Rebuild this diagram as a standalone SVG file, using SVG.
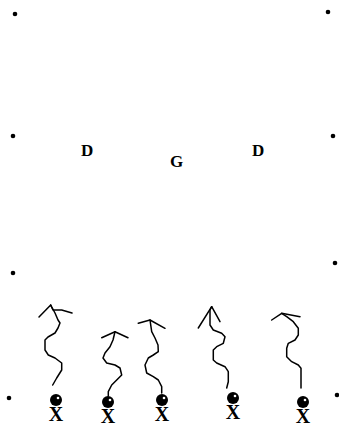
<svg xmlns="http://www.w3.org/2000/svg" width="339" height="431" viewBox="0 0 339 431">
  <style>
    .dot { fill: #000; }
    .route { fill: none; stroke: #000; stroke-width: 1.5; stroke-linejoin: round; stroke-linecap: round; }
    .lbl { font-family: "Liberation Serif", "Times New Roman", serif; font-weight: bold; fill: #000; }
    .pos { font-size: 17px; }
    .x { font-size: 20px; text-anchor: middle; }
  </style>
  <defs>
    <g id="player">
      <circle cx="0" cy="0" r="6" fill="#000"/>
      <circle cx="2" cy="-2" r="1.3" fill="#fff"/>
      <text class="lbl x" x="0" y="21">X</text>
    </g>
  </defs>

  <!-- field markers -->
  <g id="markers">
    <circle class="dot" cx="15" cy="14" r="2.3"/>
    <circle class="dot" cx="328" cy="12" r="2.3"/>
    <circle class="dot" cx="13" cy="136" r="2.3"/>
    <circle class="dot" cx="333" cy="136" r="2.3"/>
    <circle class="dot" cx="13" cy="273" r="2.3"/>
    <circle class="dot" cx="335" cy="263" r="2.3"/>
    <circle class="dot" cx="9" cy="398" r="2.3"/>
    <circle class="dot" cx="337" cy="395" r="2.3"/>
  </g>

  <!-- defenders -->
  <g id="d-left"><text class="lbl pos" x="81" y="156">D</text></g>
  <g id="g-mid"><text class="lbl pos" x="170" y="167">G</text></g>
  <g id="d-right"><text class="lbl pos" x="252" y="156">D</text></g>

  <!-- routes -->
  <g id="routes">
    <polyline class="route" points="52.7,385 56.7,378 61.7,370 61.7,363 55,358 48.3,355 45,350 45,340 48,337 55,333 58,328 60,323 58,320 55,313 51.7,307 50.7,305"/>
    <polyline class="route" points="39,317 50.7,305 53,310 61.7,310 72,313"/>
    <polyline class="route" points="101.7,337.7 115,331.7 128,337.7"/>
    <polyline class="route" points="115,331.7 113,340 110,346.7 105,353 103,358 106.7,363 115,365 120,368 121.7,375 116.7,380 111.7,385 108.3,391.7 108.3,396"/>
    <polyline class="route" points="138.3,323.3 150,320 165,328.3"/>
    <polyline class="route" points="150,320 151.7,331.7 155,338 158,345 158.3,351.7 153.3,355 148.3,358 145,365 146.7,373 153.3,376.7 158.3,380 161.7,386.7 161.7,393"/>
    <polyline class="route" points="198.3,328 211.7,306.7 220,321.7"/>
    <polyline class="route" points="211.7,306.7 210,310 210,325 213.3,330 221.7,333.3 225,336.7 223.3,343.3 216.7,346.7 213.3,350 213.3,360 216.7,363 225,366.7 228.3,371.7 228.3,381.7 226.7,388"/>
    <polyline class="route" points="271.7,320 281.7,313.3 300,316.7"/>
    <polyline class="route" points="281.7,313.3 286.7,316.7 293.3,321.7 298.3,328.3 298.3,335 295,340 288.3,343.3 286.7,348.3 286.7,356.7 291.7,361.7 298.3,365 301,368.3 301,388"/>
  </g>

  <!-- receivers -->
  <g id="p1"><use href="#player" x="56" y="400"/></g>
  <g id="p2"><use href="#player" x="108" y="402"/></g>
  <g id="p3"><use href="#player" x="162" y="400"/></g>
  <g id="p4"><use href="#player" x="233" y="398"/></g>
  <g id="p5"><use href="#player" x="303" y="402"/></g>
</svg>
